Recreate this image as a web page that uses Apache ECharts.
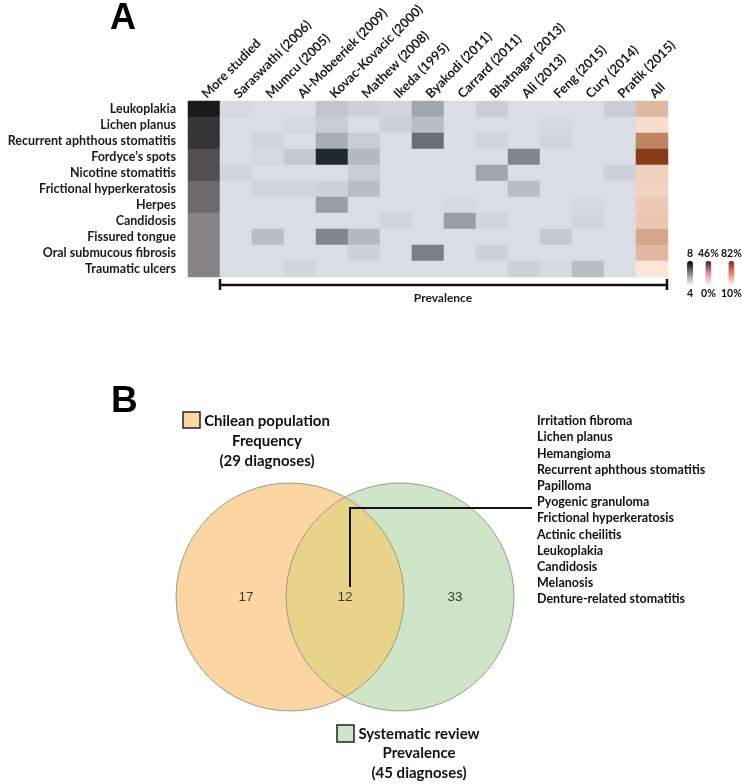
<!DOCTYPE html>
<html>
<head>
<meta charset="utf-8">
<script src="https://cdn.jsdelivr.net/npm/echarts@6/dist/echarts.min.js"></script>
<style>
html, body { margin: 0; padding: 0; background: #fff; }
#main { width: 742px; height: 784px; }
</style>
</head>
<body>
<div id="main"></div>
<script>
var FONT = 'Lato, "Open Sans", sans-serif';

// ---- panel A: heatmap ----
var studies = ['Saraswathi (2006)', 'Mumcu (2005)', 'Al-Mobeeriek (2009)', 'Kovac-Kovacic (2000)',
  'Mathew (2008)', 'Ikeda (1995)', 'Byakodi (2011)', 'Carrard (2011)', 'Bhatnagar (2013)',
  'Ali (2013)', 'Feng (2015)', 'Cury (2014)', 'Pratik (2015)'];
var columns = ['More studied'].concat(studies, ['All']);
var lesions = ['Leukoplakia', 'Lichen planus', 'Recurrent aphthous stomatitis', 'Fordyce\u2019s spots',
  'Nicotine stomatitis', 'Frictional hyperkeratosis', 'Herpes', 'Candidosis', 'Fissured tongue',
  'Oral submucous fibrosis', 'Traumatic ulcers'];

// how many studies report each lesion
var studyCount = [8, 7, 7, 6, 6, 5, 5, 4, 4, 4, 4];

// prevalence (%) of each lesion (rows) in each study (columns)
var prevalence = [
  [1, 0, 0, 6, 3, 2, 14, 0, 4, 0, 0, 0, 4],
  [0, 0, 1, 4, 0, 3, 8, 0, 0, 0, 1, 0, 0],
  [0, 2, 0, 12, 4, 0, 28, 0, 2, 0, 2, 0, 0],
  [0, 1, 5, 46, 9, 0, 0, 0, 0, 22, 0, 0, 0],
  [2, 0, 0, 0, 4, 0, 0, 0, 14, 0, 0, 0, 3],
  [0, 2, 2, 3, 8, 0, 0, 0, 0, 8, 0, 0, 0],
  [0, 0, 0, 16, 0, 0, 0, 1, 0, 0, 0, 1, 0],
  [0, 0, 0, 0, 0, 2, 0, 16, 2, 0, 0, 2, 0],
  [0, 8, 0, 22, 9, 0, 0, 0, 0, 0, 5, 0, 0],
  [0, 0, 0, 0, 3, 0, 24, 0, 3, 0, 0, 0, 0],
  [0, 0, 2, 0, 0, 0, 0, 0, 0, 3, 1, 8, 0]
];
// pooled prevalence (%)
var allPrevalence = [28, 14, 49, 82, 18, 17, 21, 22, 35, 28, 10];

// ---- panel B: venn ----
var vennSets = ['Chilean population', 'Systematic review'];
var vennMeasures = ['Frequency', 'Prevalence'];
var vennTotals = [29, 45];
var vennCounts = [17, 12, 33];          // Chilean only, both, review only
var vennCenters = [[0, 0], [1, 0]];     // circle centres, in venn axis units
var vennRadius = 1.036;
var vennLabelX = [-0.4, 0.5, 1.5];
var sharedDiagnoses = ['Irritation fibroma', 'Lichen planus', 'Hemangioma', 'Recurrent aphthous stomatitis',
  'Papilloma', 'Pyogenic granuloma', 'Frictional hyperkeratosis', 'Actinic cheilitis', 'Leukoplakia',
  'Candidosis', 'Melanosis', 'Denture-related stomatitis'];

var countData = studyCount.map(function (v, i) { return [0, i, v]; });
var studyData = [];
prevalence.forEach(function (row, i) {
  row.forEach(function (v, j) { studyData.push([j + 1, i, v]); });
});
var allData = allPrevalence.map(function (v, i) { return [columns.length - 1, i, v]; });

var vennFill = ['#fcd6a2', '#cfe5c8'];
var lensFill = '#e8d38b';
var vennStroke = '#9b9a8c';

var labelStyle = { color: '#1a1a1a', fontFamily: FONT, fontWeight: 'bold', fontSize: 12.5 };
var legendText = { color: '#111', fontFamily: FONT, fontWeight: 'bold', fontSize: 10.5 };

function vm(seriesIndex, min, max, text, cells, ctrl, left) {
  return {
    type: 'continuous', seriesIndex: seriesIndex, dimension: 2,
    min: min, max: max, text: text, orient: 'vertical',
    itemWidth: 6, itemHeight: 25, textGap: 2, left: left, top: 233,
    calculable: false, hoverLink: false, textStyle: legendText,
    inRange: { color: cells },
    controller: { inRange: { color: ctrl } }
  };
}

var chart = echarts.init(document.getElementById('main'));
chart.setOption({
  backgroundColor: '#fff',
  animation: false,
  grid: [
    { left: 188, top: 101, width: 480, height: 176 },
    { left: 180, top: 487, width: 330, height: 220 }
  ],
  xAxis: [
    {
      gridIndex: 0, type: 'category', data: columns, position: 'top',
      axisLine: { show: false }, axisTick: { show: false },
      axisLabel: Object.assign({ rotate: -45, margin: 5, interval: 0, overflow: 'none' }, labelStyle, { fontSize: 13 })
    },
    { gridIndex: 1, type: 'value', min: -1, max: 2, show: false }
  ],
  yAxis: [
    {
      gridIndex: 0, type: 'category', data: lesions, inverse: true,
      axisLine: { show: false }, axisTick: { show: false },
      axisLabel: Object.assign({ margin: 12, interval: 0 }, labelStyle)
    },
    { gridIndex: 1, type: 'value', min: -1, max: 1, show: false }
  ],
  visualMap: [
    vm(0, 4, 8, ['8', '4'], ['#878584', '#1a1a1a'], ['#ffffff', '#8a8a8a', '#000000'], 672),
    vm(1, 0, 46, ['46%', '0%'], ['#d9dde4', '#1f2833'], ['#ffffff', '#ef8d9c', '#3b2431'], 683),
    vm(2, 10, 82, ['82%', '10%'], ['#fde5d8', '#c48a68', '#8a3c16'], ['#ffffff', '#ee8068', '#7b3414'], 706)
  ],
  series: [
    { type: 'heatmap', name: 'More studied', xAxisIndex: 0, yAxisIndex: 0, data: countData, emphasis: { disabled: true } },
    { type: 'heatmap', name: 'Studies', xAxisIndex: 0, yAxisIndex: 0, data: studyData, emphasis: { disabled: true } },
    { type: 'heatmap', name: 'All', xAxisIndex: 0, yAxisIndex: 0, data: allData, emphasis: { disabled: true } },
    {
      type: 'custom', name: 'sets', xAxisIndex: 1, yAxisIndex: 1, data: vennCenters, z: 1,
      renderItem: function (params, api) {
        var c = api.coord([api.value(0), api.value(1)]);
        var r = api.size([vennRadius, 0])[0];
        return { type: 'circle', shape: { cx: c[0], cy: c[1], r: r },
          style: { fill: vennFill[params.dataIndex], stroke: null } };
      }
    },
    {
      type: 'custom', name: 'overlap', xAxisIndex: 1, yAxisIndex: 1, data: [vennCenters[0]], z: 2,
      renderItem: function (params, api) {
        var a = api.coord(vennCenters[0]);
        var b = api.coord(vennCenters[1]);
        var r = api.size([vennRadius, 0])[0];
        var d = b[0] - a[0];
        var h = Math.sqrt(r * r - d * d / 4);
        var mx = (a[0] + b[0]) / 2;
        var t = [mx, a[1] - h], bt = [mx, a[1] + h];
        var p = 'M' + t[0] + ' ' + t[1] + ' A' + r + ' ' + r + ' 0 0 1 ' + bt[0] + ' ' + bt[1] +
          ' A' + r + ' ' + r + ' 0 0 1 ' + t[0] + ' ' + t[1] + ' Z';
        return { type: 'path', shape: { pathData: p }, style: { fill: lensFill } };
      }
    },
    {
      type: 'custom', name: 'outline', xAxisIndex: 1, yAxisIndex: 1, data: vennCenters, z: 3,
      renderItem: function (params, api) {
        var c = api.coord([api.value(0), api.value(1)]);
        var r = api.size([vennRadius, 0])[0];
        return { type: 'circle', shape: { cx: c[0], cy: c[1], r: r },
          style: { fill: null, stroke: vennStroke, lineWidth: 1 } };
      }
    },
    {
      type: 'scatter', name: 'counts', xAxisIndex: 1, yAxisIndex: 1, z: 4, symbolSize: 0,
      data: vennCounts.map(function (v, i) { return [vennLabelX[i], 0, v]; }),
      label: { show: true, position: 'inside', formatter: function (p) { return p.value[2]; },
        color: '#111', fontFamily: '"Liberation Sans", Arial, sans-serif', fontSize: 13.5 },
      emphasis: { disabled: true }
    }
  ],
  graphic: [
    { type: 'text', left: 110, top: 1, style: { text: 'A', fontFamily: '"Liberation Sans", Arial, sans-serif', fontWeight: 'bold', fontSize: 36, fill: '#000' } },
    { type: 'text', left: 111, top: 383, style: { text: 'B', fontFamily: '"Liberation Sans", Arial, sans-serif', fontWeight: 'bold', fontSize: 37, fill: '#000' } },
    // prevalence bracket
    { type: 'line', shape: { x1: 220, y1: 285, x2: 667, y2: 285 }, style: { stroke: '#111', lineWidth: 2.5 } },
    { type: 'line', shape: { x1: 220, y1: 279, x2: 220, y2: 290 }, style: { stroke: '#111', lineWidth: 2.5 } },
    { type: 'line', shape: { x1: 667, y1: 279, x2: 667, y2: 290 }, style: { stroke: '#111', lineWidth: 2.5 } },
    { type: 'text', x: 443, y: 298, style: { text: 'Prevalence', fontFamily: FONT, fontWeight: 'bold', fontSize: 12, fill: '#1a1a1a', textAlign: 'center', textVerticalAlign: 'middle' } },
    // venn set labels
    { type: 'rect', shape: { x: 183, y: 412, width: 17, height: 16 }, style: { fill: vennFill[0], stroke: '#222', lineWidth: 1.5 } },
    { type: 'text', x: 267, y: 411, style: { text: vennSets[0] + '\n' + vennMeasures[0] + '\n(' + vennTotals[0] + ' diagnoses)', lineHeight: 20, fontFamily: FONT, fontWeight: 'bold', fontSize: 15, fill: '#111', textAlign: 'center', textVerticalAlign: 'top' } },
    { type: 'rect', shape: { x: 337, y: 725, width: 17, height: 17 }, style: { fill: vennFill[1], stroke: '#222', lineWidth: 1.5 } },
    { type: 'text', x: 419, y: 724, style: { text: vennSets[1] + '\n' + vennMeasures[1] + '\n(' + vennTotals[1] + ' diagnoses)', lineHeight: 19.5, fontFamily: FONT, fontWeight: 'bold', fontSize: 15, fill: '#111', textAlign: 'center', textVerticalAlign: 'top' } },
    // leader from the shared count to the list
    { type: 'polyline', z: 10, shape: { points: [[350, 587], [350, 508], [532, 508]] }, style: { stroke: '#111', lineWidth: 2, fill: null } },
    { type: 'text', x: 537, y: 413, style: { text: sharedDiagnoses.join('\n'), lineHeight: 16.2, fontFamily: FONT, fontWeight: 'bold', fontSize: 12.5, fill: '#111', textAlign: 'left', textVerticalAlign: 'top' } }
  ]
});
</script>
</body>
</html>
